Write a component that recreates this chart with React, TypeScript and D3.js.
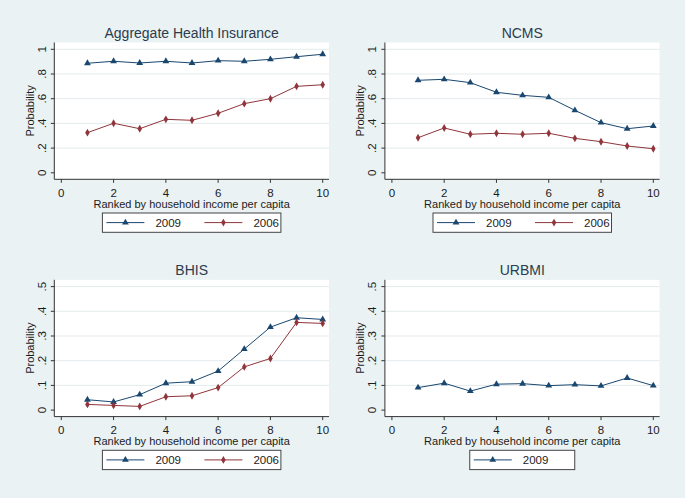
import React, { useEffect } from 'react';
import * as d3 from 'd3';

const ranks = [1, 2, 3, 4, 5, 6, 7, 8, 9, 10];
const xTicks = [0, 2, 4, 6, 8, 10];

const aggregate2009 = [0.887, 0.903, 0.889, 0.903, 0.889, 0.908, 0.903, 0.919, 0.94, 0.96];
const aggregate2006 = [0.325, 0.401, 0.357, 0.433, 0.425, 0.482, 0.56, 0.6, 0.7, 0.713];
const ncms2009 = [0.749, 0.757, 0.73, 0.652, 0.627, 0.611, 0.506, 0.406, 0.357, 0.379];
const ncms2006 = [0.284, 0.363, 0.312, 0.32, 0.312, 0.32, 0.279, 0.252, 0.217, 0.195];
const bhis2009 = [0.042, 0.033, 0.0625, 0.109, 0.115, 0.158, 0.247, 0.336, 0.374, 0.367];
const bhis2006 = [0.023, 0.019, 0.015, 0.054, 0.058, 0.091, 0.175, 0.209, 0.355, 0.351];
const urbmi2009 = [0.091, 0.109, 0.077, 0.105, 0.107, 0.099, 0.103, 0.098, 0.13, 0.099];

const yTicksFull = [0, 0.2, 0.4, 0.6, 0.8, 1];
const yLabelsFull = ['0', '.2', '.4', '.6', '.8', '1'];
const yTicksHalf = [0, 0.1, 0.2, 0.3, 0.4, 0.5];
const yLabelsHalf = ['0', '.1', '.2', '.3', '.4', '.5'];

const NAVY = '#1a476f';
const MAROON = '#90353b';
const BG = '#eaf2f3';
const TEXT = '#1c1c1c';
const FONT = 'Arial, "Liberation Sans", sans-serif';

interface Series {
  name: string;
  values: number[];
  color: string;
  symbol: d3.SymbolType;
}

interface PanelProps {
  dx: number;
  dy: number;
  title: string;
  yMax: number;
  yTicks: number[];
  yLabels: string[];
  series: Series[];
}

const markerPath = (s: d3.SymbolType) =>
  d3.symbol().type(s).size(s === d3.symbolTriangle ? 20 : 18)() || '';

const Panel: React.FC<PanelProps> = ({ dx, dy, title, yMax, yTicks, yLabels, series }) => {
  const left = 54.3, right = 329, top = 42.5, bottom = 179.3;
  const x = d3.scaleLinear().domain([0, 10]).range([61.3, 322.7]);
  const y = d3.scaleLinear().domain([0, yMax]).range([172.8, 49.3]);
  const line = d3.line<number>().x((_, i) => x(ranks[i])).y(d => y(d));

  const legW = series.length > 1 ? 178.5 : 105;
  const legL = (left + right) / 2 - legW / 2;

  return (
    <g transform={`translate(${dx},${dy})`}>
      <text x={(left + right) / 2} y={37.5} textAnchor="middle" fontSize={14} fill="#2b3c4e" fontFamily={FONT}>
        {title}
      </text>
      <rect x={left} y={top} width={right - left} height={bottom - top} fill="#fff" />
      {yTicks.slice(1).map(t => (
        <line key={t} x1={left} x2={right} y1={y(t)} y2={y(t)} stroke="#e3ebec" strokeWidth={1} />
      ))}
      <line x1={left} x2={left} y1={top} y2={bottom} stroke="#333" strokeWidth={1} />
      <line x1={left} x2={right} y1={bottom} y2={bottom} stroke="#333" strokeWidth={1} />
      {yTicks.map((t, i) => (
        <g key={t}>
          <line x1={left - 3.5} x2={left} y1={y(t)} y2={y(t)} stroke="#333" />
          <text
            transform={`translate(${left - 8.5},${y(t)}) rotate(-90)`}
            textAnchor="middle"
            fontSize={11.5}
            fill={TEXT}
            fontFamily={FONT}
          >
            {yLabels[i]}
          </text>
        </g>
      ))}
      <text
        transform={`translate(${left - 20.5},${(top + bottom) / 2}) rotate(-90)`}
        textAnchor="middle"
        fontSize={11}
        fill={TEXT}
        fontFamily={FONT}
      >
        Probability
      </text>
      {xTicks.map(t => (
        <g key={t}>
          <line x1={x(t)} x2={x(t)} y1={bottom} y2={bottom + 3.5} stroke="#333" />
          <text x={x(t)} y={196.5} textAnchor="middle" fontSize={11.5} fill={TEXT} fontFamily={FONT}>
            {t}
          </text>
        </g>
      ))}
      <text x={(left + right) / 2} y={208} textAnchor="middle" fontSize={11} fill={TEXT} fontFamily={FONT}>
        Ranked by household income per capita
      </text>
      {series.map(s => (
        <g key={s.name}>
          <path d={line(s.values) || ''} fill="none" stroke={s.color} strokeWidth={1} />
          {s.values.map((v, i) => (
            <path key={i} transform={`translate(${x(ranks[i])},${y(v)})`} d={markerPath(s.symbol)} fill={s.color} />
          ))}
        </g>
      ))}
      <rect x={legL} y={213} width={legW} height={19.3} fill="#fff" stroke="#444" strokeWidth={1} />
      {series.map((s, k) => {
        const ox = legL + k * 98;
        return (
          <g key={s.name}>
            <line x1={ox + 4} x2={ox + 42} y1={222.6} y2={222.6} stroke={s.color} strokeWidth={1} />
            <path transform={`translate(${ox + 23},${222.6})`} d={markerPath(s.symbol)} fill={s.color} />
            <text x={ox + 53} y={227} fontSize={11.5} fill={TEXT} fontFamily={FONT}>
              {s.name}
            </text>
          </g>
        );
      })}
    </g>
  );
};

const App: React.FC = () => {
  useEffect(() => {
    document.body.style.margin = '0';
  }, []);

  const dxs = [0, 330.6];
  const dys = [0, 237.3];

  return (
    <svg width={685} height={498} style={{ display: 'block', background: BG }}>
      <rect x={0} y={0} width={685} height={498} fill={BG} />
      <Panel
        dx={dxs[0]}
        dy={dys[0]}
        title="Aggregate Health Insurance"
        yMax={1}
        yTicks={yTicksFull}
        yLabels={yLabelsFull}
        series={[
          { name: '2009', values: aggregate2009, color: NAVY, symbol: d3.symbolTriangle },
          { name: '2006', values: aggregate2006, color: MAROON, symbol: d3.symbolDiamond },
        ]}
      />
      <Panel
        dx={dxs[1]}
        dy={dys[0]}
        title="NCMS"
        yMax={1}
        yTicks={yTicksFull}
        yLabels={yLabelsFull}
        series={[
          { name: '2009', values: ncms2009, color: NAVY, symbol: d3.symbolTriangle },
          { name: '2006', values: ncms2006, color: MAROON, symbol: d3.symbolDiamond },
        ]}
      />
      <Panel
        dx={dxs[0]}
        dy={dys[1]}
        title="BHIS"
        yMax={0.5}
        yTicks={yTicksHalf}
        yLabels={yLabelsHalf}
        series={[
          { name: '2009', values: bhis2009, color: NAVY, symbol: d3.symbolTriangle },
          { name: '2006', values: bhis2006, color: MAROON, symbol: d3.symbolDiamond },
        ]}
      />
      <Panel
        dx={dxs[1]}
        dy={dys[1]}
        title="URBMI"
        yMax={0.5}
        yTicks={yTicksHalf}
        yLabels={yLabelsHalf}
        series={[{ name: '2009', values: urbmi2009, color: NAVY, symbol: d3.symbolTriangle }]}
      />
    </svg>
  );
};

export default App;
